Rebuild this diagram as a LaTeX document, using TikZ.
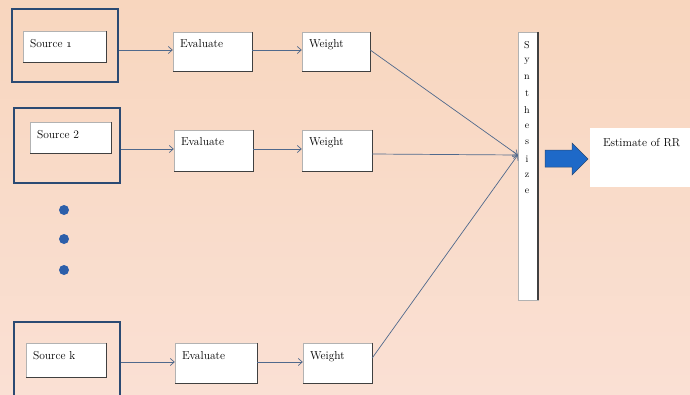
\documentclass[tikz,border=0pt]{standalone}
\usetikzlibrary{arrows.meta,fit}
\definecolor{bgtop}{RGB}{248,214,190}
\definecolor{bgbot}{RGB}{250,224,212}
\definecolor{navy}{RGB}{43,74,115}
\definecolor{conn}{RGB}{80,105,140}
\definecolor{arrblue}{RGB}{30,105,200}
\definecolor{dotblue}{RGB}{45,95,170}
\tikzset{
  x=1pt, y=-1pt,
  outerbox/.style={draw=navy, line width=1.6pt, inner sep=0pt},
  wbox/.style={draw=black!30, fill=white, line width=0.4pt, inner sep=0pt},
  lbl/.style={anchor=base west, inner sep=0pt, font=\fontsize{11.5}{13}\selectfont},
  conarrow/.style={draw=conn, line width=0.7pt, -{Straight Barb[length=4pt,width=7pt]}},
  shadowline/.style={draw=black!75, line width=1.2pt},
  dot/.style={circle, fill=dotblue, draw=none, minimum size=10pt, inner sep=0pt}
}
\begin{document}
\begin{tikzpicture}
\useasboundingbox (0,0) rectangle (690,394);
\shade[top color=bgtop, bottom color=bgbot] (0,0) rectangle (690,394);
% outer source frames
\node[outerbox, fit={(12,9)(118,82)}] (s1o) {};
\node[outerbox, fit={(14,108)(120,183)}] (s2o) {};
\node[outerbox, fit={(14,322)(120,398)}] (sko) {};
% white boxes
\node[wbox, fit={(23,31)(106,62)}] (s1i) {};
\node[wbox, fit={(30,122)(111,153)}] (s2i) {};
\node[wbox, fit={(26,343)(106,377)}] (ski) {};
\node[wbox, fit={(173,32)(252,71)}] (e1) {};
\node[wbox, fit={(174,130)(253,171)}] (e2) {};
\node[wbox, fit={(175,343)(257,383)}] (ek) {};
\node[wbox, fit={(302,32)(370,71)}] (w1) {};
\node[wbox, fit={(302,130)(372,171)}] (w2) {};
\node[wbox, fit={(303,343)(372,383)}] (wk) {};
\node[wbox, fit={(518,32)(538,300)}] (syn) {};
\node[wbox, draw=none, fit={(590,128)(690,187)}] (est) {};
% shadows on right/bottom edges
\foreach \n in {s1i,s2i,ski,e1,e2,ek,w1,w2,wk}
  \draw[shadowline] (\n.north east) -- (\n.south east) -- (\n.south west);
\draw[shadowline, line width=1.6pt] (syn.north east) -- (syn.south east);
% labels
\path (s1i.north west) ++(7,17) node[lbl] (t1) {Source \oldstylenums{1}};
\path (s2i.north west) ++(7,17) node[lbl] (t2) {Source 2};
\path (ski.north west) ++(7,17) node[lbl] (tk) {Source k};
\path (e1.north west) ++(7,16) node[lbl] (te1) {Evaluate};
\path (e2.north west) ++(7,16) node[lbl] (te2) {Evaluate};
\path (ek.north west) ++(7,17) node[lbl] (tek) {Evaluate};
\path (w1.north west) ++(7,16) node[lbl] (tw1) {Weight};
\path (w2.north west) ++(7,16) node[lbl] (tw2) {Weight};
\path (wk.north west) ++(7,17) node[lbl] (twk) {Weight};
\path (est.north west) ++(13,19) node[lbl] (test) {Estimate of RR};
\foreach \c [count=\i from 0] in {S,y,n,t,h,e,s,i,z,e}
  \node[font=\fontsize{10}{11}\selectfont, inner sep=0pt] (syl\i) at (527,45+16.3*\i) {\c};
% dots
\node[dot] (d1) at (64,210) {};
\node[dot] (d2) at (64,239) {};
\node[dot] (d3) at (64,270) {};
% connectors
\draw[conarrow] (s1o.east |- 0,50) -- (e1.west |- 0,50);
\draw[conarrow] (e1.east |- 0,50) -- (w1.west |- 0,50);
\draw[conarrow] (s2o.east |- 0,149) -- (e2.west |- 0,149);
\draw[conarrow] (e2.east |- 0,149) -- (w2.west |- 0,149);
\draw[conarrow] (sko.east |- 0,362) -- (ek.west |- 0,362);
\draw[conarrow] (ek.east |- 0,362) -- (wk.west |- 0,362);
\coordinate (tgt) at (syn.west |- 0,155);
\draw[conarrow] (w1.east |- 0,50) -- (tgt);
\draw[conarrow] (w2.east |- 0,154) -- (tgt);
\draw[conarrow] (wk.east |- 0,358) -- (tgt);
% big blue arrow
\fill[arrblue, draw=navy, line width=0.5pt] (545,150) -- (572,150) -- (572,143) -- (588,159) -- (572,175) -- (572,167) -- (545,167) -- cycle;
\end{tikzpicture}
\end{document}
